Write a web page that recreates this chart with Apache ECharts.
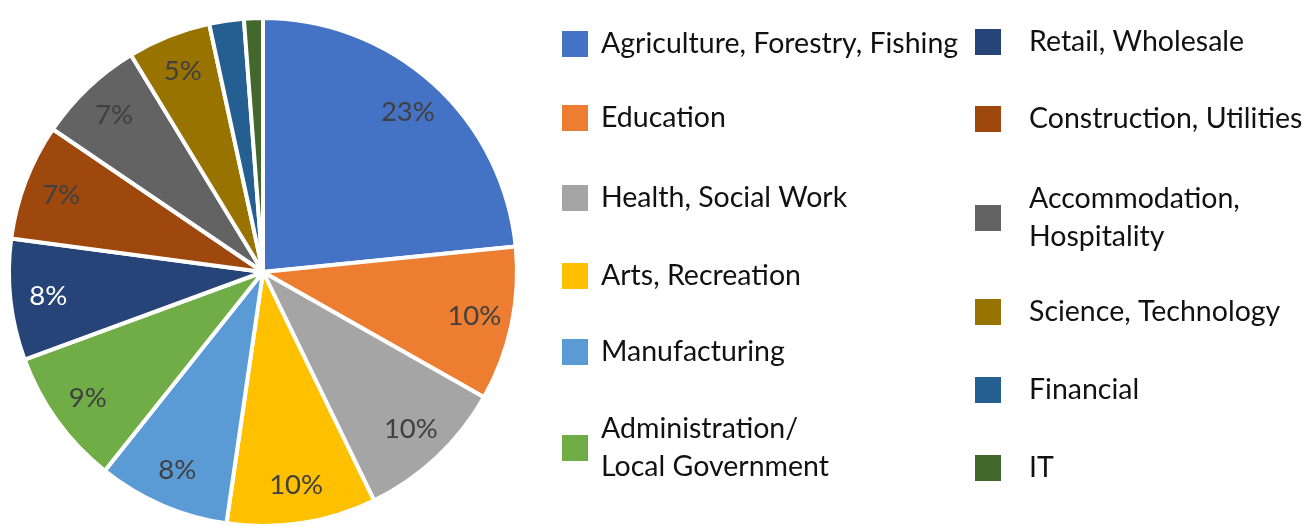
<!DOCTYPE html>
<html>
<head>
<meta charset="utf-8">
<title>Employment by sector</title>
<script src="https://cdn.jsdelivr.net/npm/echarts@6/dist/echarts.min.js"></script>
<style>
  html, body { margin: 0; padding: 0; background: #fff; }
  #chart { width: 1306px; height: 526px; }
</style>
</head>
<body>
<div id="chart"></div>
<script>
// Sector shares, in percent, clockwise from twelve o'clock
const sectors = [
  'Agriculture, Forestry, Fishing',
  'Education',
  'Health, Social Work',
  'Arts, Recreation',
  'Manufacturing',
  'Administration/Local Government',
  'Retail, Wholesale',
  'Construction, Utilities',
  'Accommodation, Hospitality',
  'Science, Technology',
  'Financial',
  'IT'
];
const shares = [23.4, 9.8, 9.6, 9.5, 8.4, 8.7, 7.7, 7.4, 6.8, 5.3, 2.2, 1.2];

// Legend text where a sector name wraps onto two lines
const legendText = {
  'Administration/Local Government': 'Administration/\nLocal Government',
  'Accommodation, Hospitality': 'Accommodation,\nHospitality'
};

const palette = ['#4472C4', '#ED7D31', '#A5A5A5', '#FFC000', '#5B9BD5', '#70AD47',
                 '#264478', '#9E480E', '#636363', '#997300', '#255E91', '#43682B'];
const FONT = 'Lato, "Open Sans", "Noto Sans", sans-serif';

// Legend placement: two columns, each entry given its own vertical centre;
// gap is the space between swatch and text
const legendSlots = [
  { x: 560, y: 44, gap: 7 }, { x: 560, y: 118, gap: 7 }, { x: 560, y: 198, gap: 7 },
  { x: 560, y: 276, gap: 7 }, { x: 560, y: 352, gap: 7 }, { x: 560, y: 448, gap: 7 },
  { x: 973, y: 42, gap: 22 }, { x: 973, y: 119, gap: 22 }, { x: 973, y: 218, gap: 22 },
  { x: 973, y: 312, gap: 22 }, { x: 973, y: 390, gap: 22 }, { x: 973, y: 468, gap: 22 }
];
const LINE_H = 38;

const legends = sectors.map((name, i) => {
  const slot = legendSlots[i];
  const lines = (legendText[name] || name).split('\n').length;
  return {
    data: [name],
    left: slot.x,
    top: slot.y - (LINE_H * lines) / 2,
    padding: 0,
    icon: 'rect',
    itemWidth: 28,
    itemHeight: 28,
    selectedMode: false,
    formatter: n => legendText[n] || n,
    textStyle: {
      fontFamily: FONT,
      fontSize: 28.5,
      color: '#111',
      lineHeight: LINE_H,
      padding: [0, 0, 0, slot.gap]
    }
  };
});

const pieData = sectors.map((name, i) => ({ name, value: shares[i] }));
const CENTER = [263, 272];

const chart = echarts.init(document.getElementById('chart'), null, { renderer: 'canvas' });
chart.setOption({
  animation: false,
  color: palette,
  legend: legends,
  series: [
    {
      // the pie itself
      type: 'pie',
      center: CENTER,
      radius: [0, 254],
      startAngle: 90,
      clockwise: true,
      avoidLabelOverlap: false,
      label: { show: false },
      labelLine: { show: false },
      itemStyle: { borderColor: '#fff', borderWidth: 4 },
      emphasis: { disabled: true },
      data: pieData
    },
    {
      // transparent ring that carries the percentage labels near the rim
      type: 'pie',
      center: CENTER,
      radius: [172, 254],
      startAngle: 90,
      clockwise: true,
      silent: true,
      avoidLabelOverlap: false,
      legendHoverLink: false,
      itemStyle: { color: 'rgba(0,0,0,0)', borderWidth: 0 },
      labelLine: { show: false },
      emphasis: { disabled: true },
      label: {
        show: true,
        position: 'inside',
        fontFamily: FONT,
        fontSize: 27.5,
        color: '#404040',
        formatter: p => (p.percent >= 3 ? Math.round(p.percent) + '%' : '')
      },
      data: pieData.map(d => d.name === 'Retail, Wholesale'
        ? Object.assign({}, d, { label: { color: '#ffffff' } })
        : d)
    }
  ]
});
</script>
</body>
</html>
